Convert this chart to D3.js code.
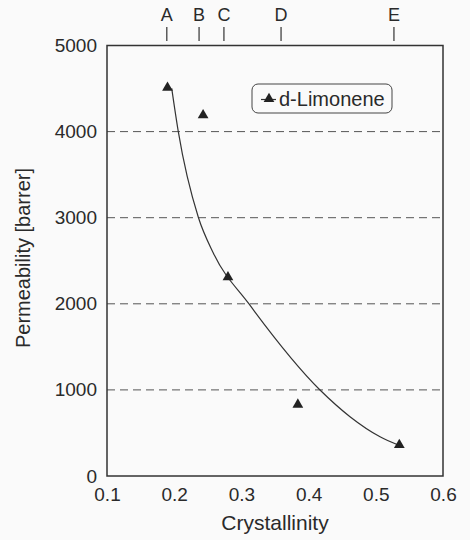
<!DOCTYPE html>
<html>
<head>
<meta charset="utf-8">
<script src="https://cdn.jsdelivr.net/npm/d3@7"></script>
<style>
  html, body { margin: 0; padding: 0; background: #fafafa; }
  svg { display: block; font-family: "Liberation Sans", Arial, sans-serif; }
</style>
</head>
<body>
<div id="chart"></div>
<script>
// measured points (d-Limonene)
var crystallinity = [0.19, 0.243, 0.28, 0.384, 0.535];
var permeability = [4510, 4190, 2310, 830, 360];

// fitted trend line
var fitX = [0.1963, 0.2061, 0.2359, 0.2582, 0.3113, 0.417, 0.4616, 0.5063, 0.5335];
var fitY = [4503, 4000, 3005, 2590, 1998, 999, 689, 456, 360];

// sample labels along the top
var sampleNames = ["A", "B", "C", "D", "E"];
var samplePos = [0.189, 0.237, 0.274, 0.359, 0.527];

var xTicks = [0.1, 0.2, 0.3, 0.4, 0.5, 0.6];
var yTicks = [0, 1000, 2000, 3000, 4000, 5000];
var gridVals = [1000, 2000, 3000, 4000];

var width = 470;
var height = 540;
var ink = "#2a2a2a";

var svg = d3
  .select("#chart")
  .append("svg")
  .attr("width", width)
  .attr("height", height);

var x = d3.scaleLinear().domain([0.1, 0.6]).range([107, 443]);
var y = d3.scaleLinear().domain([0, 5000]).range([476, 45.5]);

// dashed grid lines
svg
  .selectAll(".grid")
  .data(gridVals)
  .enter()
  .append("line")
  .attr("class", "grid")
  .attr("x1", x(0.1))
  .attr("x2", x(0.6))
  .attr("y1", (d) => y(d))
  .attr("y2", (d) => y(d))
  .attr("stroke", "#555")
  .attr("stroke-width", 1)
  .attr("stroke-dasharray", "8,5");

// axes: labels only, no tick marks
var xAxis = d3
  .axisBottom(x)
  .tickValues(xTicks)
  .tickSize(0)
  .tickPadding(12)
  .tickFormat(d3.format(".1f"));
var gx = svg
  .append("g")
  .attr("transform", "translate(0," + y(0) + ")")
  .call(xAxis)
  .attr("font-size", 19)
  .attr("font-family", null);
gx.select(".domain").remove();
gx.selectAll("text").attr("fill", ink);

var yAxis = d3
  .axisLeft(y)
  .tickValues(yTicks)
  .tickSize(0)
  .tickPadding(10)
  .tickFormat(d3.format("d"));
var gy = svg
  .append("g")
  .attr("transform", "translate(" + x(0.1) + ",0)")
  .call(yAxis)
  .attr("font-size", 19)
  .attr("font-family", null);
gy.select(".domain").remove();
gy.selectAll("text").attr("fill", ink);

// plot frame
svg
  .append("rect")
  .attr("x", x(0.1))
  .attr("y", y(5000))
  .attr("width", x(0.6) - x(0.1))
  .attr("height", y(0) - y(5000))
  .attr("fill", "none")
  .attr("stroke", "#333")
  .attr("stroke-width", 1.5);

// sample markers above the frame
var sampleG = svg.append("g");
sampleG
  .selectAll("text")
  .data(sampleNames)
  .enter()
  .append("text")
  .attr("x", (d, i) => x(samplePos[i]))
  .attr("y", 21)
  .attr("text-anchor", "middle")
  .attr("font-size", 18)
  .attr("fill", ink)
  .text((d) => d);
sampleG
  .selectAll("line")
  .data(samplePos)
  .enter()
  .append("line")
  .attr("x1", (d) => x(d))
  .attr("x2", (d) => x(d))
  .attr("y1", 27)
  .attr("y2", 41)
  .attr("stroke", "#333")
  .attr("stroke-width", 1.2);

// trend curve
var fit = fitX.map((d, i) => ({ x: d, y: fitY[i] }));
svg
  .append("path")
  .datum(fit)
  .attr("fill", "none")
  .attr("stroke", "#333")
  .attr("stroke-width", 1.2)
  .attr(
    "d",
    d3
      .line()
      .curve(d3.curveMonotoneX)
      .x((d) => x(d.x))
      .y((d) => y(d.y))
  );

// data triangles
var tri = d3.symbol().type(d3.symbolTriangle).size(50);
svg
  .selectAll(".pt")
  .data(crystallinity)
  .enter()
  .append("path")
  .attr("class", "pt")
  .attr("d", tri)
  .attr(
    "transform",
    (d, i) => "translate(" + x(d) + "," + y(permeability[i]) + ")"
  )
  .attr("fill", "#222");

// legend
var legend = svg.append("g").attr("transform", "translate(252,84)");
legend
  .append("rect")
  .attr("width", 140)
  .attr("height", 29)
  .attr("rx", 6)
  .attr("fill", "#fafafa")
  .attr("stroke", "#444")
  .attr("stroke-width", 1);
legend
  .append("line")
  .attr("x1", 9)
  .attr("x2", 24)
  .attr("y1", 15.5)
  .attr("y2", 15.5)
  .attr("stroke", "#333")
  .attr("stroke-width", 1.2);
legend
  .append("path")
  .attr("d", tri)
  .attr("transform", "translate(17,15)")
  .attr("fill", "#222");
legend
  .append("text")
  .attr("x", 27)
  .attr("y", 22)
  .attr("font-size", 20)
  .attr("fill", ink)
  .text("d-Limonene");

// axis titles
svg
  .append("text")
  .attr("x", (x(0.1) + x(0.6)) / 2)
  .attr("y", 530)
  .attr("text-anchor", "middle")
  .attr("font-size", 21)
  .attr("fill", ink)
  .text("Crystallinity");

svg
  .append("text")
  .attr("transform", "translate(30,258) rotate(-90)")
  .attr("text-anchor", "middle")
  .attr("font-size", 20)
  .attr("fill", ink)
  .text("Permeability [barrer]");
</script>
</body>
</html>
